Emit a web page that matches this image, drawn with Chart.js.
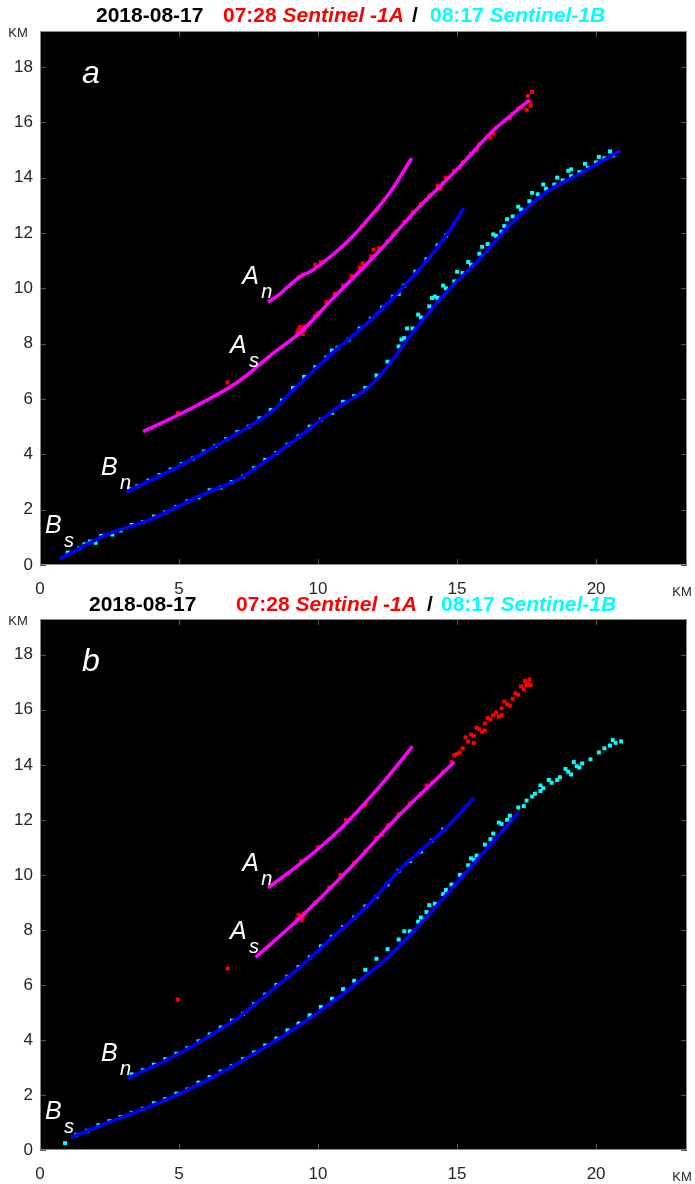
<!DOCTYPE html>
<html>
<head>
<meta charset="utf-8">
<script src="https://cdn.jsdelivr.net/npm/chart.js@4.4.1/dist/chart.umd.min.js"></script>
<style>
  html, body { margin: 0; padding: 0; background: #fff; }
  #wrap { position: relative; width: 695px; height: 1184px; }
  canvas { position: absolute; left: 0; }
</style>
</head>
<body>
<div id="wrap">
  <canvas id="panelA" width="695" height="605" style="top:0"></canvas>
  <canvas id="panelB" width="695" height="596" style="top:588px"></canvas>
</div>
<script>
// ---- data (km) ----
const xTicks = [0, 5, 10, 15, 20];
const yTicks = [0, 2, 4, 6, 8, 10, 12, 14, 16, 18];

// panel a: fitted traces
const anLineA = [[8.2,9.5],[8.63,9.8],[9.05,10.18],[9.35,10.42],[9.71,10.6],[10.07,10.85],[10.55,11.23],[11.15,11.78],[11.75,12.44],[12.59,13.47],[13.37,14.71]];
const asLineA = [[3.71,4.82],[5.36,5.62],[7.14,6.63],[8.33,7.61],[9.4,8.44],[10.5,9.6],[12.2,11.35],[13.5,12.8],[15.0,14.3],[16.3,15.7],[17.6,16.8]];
const bnLineA = [[3.1,2.64],[4.75,3.44],[5.96,4.1],[7.14,4.78],[8.33,5.54],[9.04,6.25],[9.5,6.7],[10.5,7.65],[11.8,8.77],[13.3,10.3],[14.5,11.75],[15.25,12.9]];
const bsLineA = [[0.71,0.22],[2.38,1.09],[3.93,1.63],[5.96,2.6],[7.14,3.1],[8.33,3.91],[9.5,4.78],[10.7,5.69],[11.8,6.4],[12.4,7.05],[13.4,8.4],[14.6,9.84],[15.8,11.05],[17.0,12.4],[18.2,13.47],[19.4,14.13],[20.86,14.97]];

// panel a: radar returns
const redA = [[4.96,5.5],[6.75,6.6],[9.25,8.4],[9.3,8.5],[9.4,8.45],[9.45,8.35],[9.35,8.6],[9.5,8.5],[9.3,8.35],[9.5,8.62],[9.9,9.0],[10.0,9.1],[10.3,9.5],[10.6,9.8],[10.9,10.1],[11.2,10.45],[11.5,10.75],[11.9,11.15],[12.2,11.45],[12.5,11.7],[12.8,12.05],[13.1,12.4],[13.4,12.75],[13.7,13.05],[14.0,13.35],[14.3,13.7],[14.6,14.0],[14.9,14.25],[15.2,14.55],[15.5,14.85],[15.8,15.2],[16.1,15.5],[16.4,15.8],[16.7,16.05],[17.0,16.3],[17.3,16.55],[17.6,16.75],[17.7,17.1],[17.5,16.45],[17.65,16.6],[16.2,15.45],[14.4,13.6],
  [11.6,10.9],[12.0,11.4],[12.7,11.95],[13.3,12.55],[13.9,13.2],[14.5,13.8],[15.1,14.35],[15.7,15.0],[16.3,15.6],[16.9,16.15],[17.2,16.5],[17.55,16.95],
  [9.3,10.4],[9.45,10.5],[9.9,10.85],[10.1,10.95],[11.6,12.25],[12.1,12.8]];
const cyanA = [[1.0,0.45],[1.4,0.6],[1.6,0.75],[1.8,0.85],[2.0,0.8],[2.2,1.05],[2.6,1.1],[2.9,1.25],[3.3,1.45],[3.7,1.55],[4.1,1.75],[4.5,1.9],[4.9,2.1],[5.3,2.3],[5.7,2.45],[6.1,2.7],[6.5,2.8],[6.9,3.0],[7.3,3.2],[7.7,3.5],[8.1,3.8],[8.5,4.05],[8.9,4.35],[9.3,4.65],[9.7,5.0],[10.1,5.25],[10.5,5.5],[10.9,5.9],[11.3,6.1],[11.7,6.4],[12.1,6.85],[12.5,7.35],[12.9,7.9],[13.1,8.2],[13.4,8.55],[13.7,8.95],[14.0,9.35],[14.3,9.65],[14.6,10.0],[14.9,10.25],[15.2,10.55],[15.5,10.85],[15.8,11.25],[16.1,11.6],[16.4,11.9],[16.7,12.25],[17.0,12.6],[17.3,12.85],[17.6,13.15],[17.9,13.4],[18.2,13.6],[18.5,13.75],[18.8,13.9],[19.1,14.05],[19.4,14.2],[19.7,14.35],[20.0,14.55],[20.3,14.7],[20.6,14.8],[16.6,12.05],[14.2,9.7],[13.0,8.15],[19.0,14.25],
  [13.2,8.55],[13.6,9.05],[14.1,9.65],[14.5,10.1],[15.0,10.6],[15.4,10.95],[15.9,11.5],[16.3,11.95],[16.8,12.5],[17.2,12.95],[17.7,13.45],[18.1,13.75],[18.6,14.0],[19.1,14.3],[19.6,14.5],[20.1,14.75],[20.5,14.95],
  [3.2,2.75],[3.5,2.85],[3.9,3.05],[4.3,3.25],[4.7,3.45],[5.1,3.65],[5.5,3.85],[5.9,4.1],[6.3,4.3],[6.7,4.55],[7.1,4.8],[7.5,5.0],[7.9,5.3],[8.3,5.6],[8.7,5.95],[9.1,6.4],[9.5,6.8],[9.9,7.15],[10.3,7.5],[10.7,7.85],[11.1,8.15],[11.5,8.55],[11.9,8.9],[12.3,9.3],[12.7,9.7],[13.1,10.1],[13.5,10.6],[13.9,11.05],[14.3,11.55],[14.6,11.9],[10.5,7.75],[12.9,9.8]];

// panel b: fitted traces
const anLineB = [[8.2,9.53],[9.35,10.4],[10.8,11.67],[12.2,13.2],[13.4,14.67]];
const asLineB = [[7.75,7.0],[9.35,8.44],[11.15,10.25],[12.95,12.2],[14.9,14.1]];
const bnLineB = [[3.14,2.6],[4.75,3.37],[5.96,4.06],[7.14,4.82],[8.33,5.8],[9.5,6.78],[10.6,7.8],[11.9,9.0],[12.95,10.2],[14.7,11.8],[15.6,12.8]];
const bsLineB = [[1.13,0.47],[2.98,1.2],[4.75,1.92],[6.55,2.83],[8.33,3.88],[10.1,5.07],[11.8,6.4],[12.23,6.75],[13.2,7.7],[14.2,8.8],[15.2,9.95],[16.2,11.1],[17.2,12.26]];

// panel b: radar returns
const redB = [[4.96,5.47],[6.75,6.6],[9.25,8.4],[9.35,8.5],[9.45,8.45],[9.4,8.35],[9.3,8.55],[9.5,8.6],[9.9,9.0],[10.4,9.55],[10.8,10.0],[11.3,10.45],[11.7,10.85],[12.1,11.35],[12.5,11.8],[12.9,12.2],[13.3,12.6],[13.7,12.95],[14.1,13.35],[14.5,13.75],[14.8,14.1],[15.0,14.4],[15.2,14.6],[15.4,14.85],[15.6,15.05],[15.8,15.3],[16.0,15.5],[16.2,15.65],[16.4,15.9],[16.6,16.05],[16.8,16.2],[17.0,16.4],[17.2,16.55],[17.4,16.75],[17.55,16.95],[17.6,17.1],[15.3,15.0],[15.9,15.2],[16.5,15.75],[17.1,16.6],
  [14.9,14.35],[15.1,14.45],[15.5,15.1],[15.7,15.35],[16.1,15.7],[16.3,15.8],[16.7,16.3],[16.9,16.15],[17.3,16.85],[17.5,16.9],[17.45,17.05],[17.65,16.9],[15.6,14.8],[16.0,15.25],[16.6,15.8],[13.9,13.25],[12.3,11.45],
  [9.4,10.5],[10.0,11.0],[11.0,12.0],[11.7,12.55]];
const cyanB = [[0.9,0.25],[1.3,0.55],[1.7,0.7],[2.1,0.9],[2.5,1.05],[2.9,1.2],[3.3,1.35],[3.7,1.5],[4.1,1.7],[4.5,1.85],[4.9,2.05],[5.3,2.2],[5.7,2.45],[6.1,2.65],[6.5,2.85],[6.9,3.05],[7.3,3.3],[7.7,3.55],[8.1,3.8],[8.5,4.05],[8.9,4.35],[9.3,4.6],[9.7,4.9],[10.1,5.2],[10.5,5.5],[10.9,5.85],[11.3,6.15],[11.7,6.55],[12.1,6.95],[12.5,7.3],[12.9,7.65],[13.3,7.95],[13.6,8.3],[13.9,8.65],[14.2,8.95],[14.5,9.3],[14.8,9.65],[15.1,10.0],[15.4,10.35],[15.7,10.7],[16.0,11.1],[16.3,11.5],[16.6,11.85],[16.9,12.15],[17.2,12.45],[17.5,12.7],[17.8,12.95],[18.1,13.15],[18.4,13.35],[18.7,13.55],[19.0,13.75],[19.3,13.95],[19.5,14.05],[19.8,14.2],[20.1,14.45],[20.5,14.7],[20.7,14.8],[13.1,7.95],[14.0,8.9],[15.5,10.6],[16.5,11.9],[18.0,13.25],[19.2,14.1],
  [17.4,12.5],[17.7,12.85],[18.0,13.05],[18.3,13.45],[18.6,13.45],[18.9,13.85],[19.1,13.65],[19.4,13.9],[20.3,14.6],[20.6,14.9],[20.9,14.85],[16.8,12.0],[16.2,11.3],[15.6,10.55],[14.6,9.45],[13.7,8.45],
  [3.3,2.75],[3.7,2.9],[4.1,3.1],[4.5,3.3],[4.9,3.5],[5.3,3.7],[5.7,3.95],[6.1,4.2],[6.5,4.45],[6.9,4.7],[7.3,4.95],[7.7,5.3],[8.1,5.65],[8.5,6.0],[8.9,6.3],[9.3,6.65],[9.7,7.0],[10.1,7.4],[10.5,7.75],[10.9,8.1],[11.3,8.45],[11.7,8.85],[12.1,9.2],[12.5,9.65],[12.9,10.15],[13.3,10.5],[13.7,10.85],[14.1,11.25],[14.5,11.65]];

// trace labels: [main, subscript, x, y]
const traceLabels = [['A','n',7.27,10.14],['A','s',6.83,7.66],['B','n',2.19,3.24],['B','s',0.18,1.14]];

const MAGENTA = '#ff00ff', BLUE = '#0000ff', RED = '#ff0000', CYAN = '#00ffff';
const TICK_COL = '#262626';
const FONT = '"Liberation Sans", Arial, sans-serif';

function toXY(arr) { return arr.map(p => ({ x: p[0], y: p[1] })); }

function lineSet(data, color) {
  return { data: toXY(data), showLine: true, borderColor: color, borderWidth: 3.5,
           pointRadius: 0, cubicInterpolationMode: 'monotone', order: 0 };
}
function cloudSet(data, color) {
  return { data: toXY(data), showLine: false, backgroundColor: color, borderWidth: 0,
           pointStyle: 'rect', pointRadius: 2.8, order: 1 };
}

const panelDecor = {
  id: 'panelDecor',
  beforeDraw(chart) {
    const a = chart.chartArea, ctx = chart.ctx;
    ctx.save();
    ctx.fillStyle = '#000';
    ctx.fillRect(a.left, a.top, a.right - a.left, a.bottom - a.top);
    ctx.restore();
  },
  afterDraw(chart, args, opts) {
    const a = chart.chartArea, ctx = chart.ctx;
    const xs = chart.scales.x, ys = chart.scales.y;
    ctx.save();
    // inward tick marks
    ctx.strokeStyle = '#555';
    ctx.lineWidth = 1;
    ctx.beginPath();
    xTicks.forEach(v => {
      const px = Math.round(xs.getPixelForValue(v)) + 0.5;
      ctx.moveTo(px, a.bottom); ctx.lineTo(px, a.bottom - 6);
      ctx.moveTo(px, a.top); ctx.lineTo(px, a.top + 6);
    });
    yTicks.forEach(v => {
      const py = Math.round(ys.getPixelForValue(v)) + 0.5;
      ctx.moveTo(a.left, py); ctx.lineTo(a.left + 6, py);
      ctx.moveTo(a.right, py); ctx.lineTo(a.right - 6, py);
    });
    ctx.stroke();
    ctx.strokeStyle = '#8a8a8a';
    ctx.strokeRect(a.left + 0.5, a.top + 0.5, a.right - a.left - 1, a.bottom - a.top - 1);

    // trace labels
    ctx.fillStyle = '#fff';
    ctx.textBaseline = 'alphabetic';
    ctx.textAlign = 'left';
    opts.labels.forEach(l => {
      const px = xs.getPixelForValue(l[2]), py = ys.getPixelForValue(l[3]);
      ctx.font = 'italic 25px ' + FONT;
      ctx.fillText(l[0], px, py);
      ctx.font = 'italic 20px ' + FONT;
      ctx.fillText(l[1], px + 19, py + 14);
    });
    ctx.font = 'italic 32px ' + FONT;
    ctx.fillText(opts.letter, xs.getPixelForValue(1.51), ys.getPixelForValue(17.42));

    // units
    ctx.fillStyle = TICK_COL;
    ctx.font = '13px ' + FONT;
    ctx.textAlign = 'center';
    ctx.textBaseline = 'middle';
    ctx.fillText('KM', 18, a.top + 2);
    ctx.fillText('KM', 682, a.bottom + 27);

    // title
    const t = opts.title;
    ctx.textAlign = 'left';
    const parts = [
      [t[0], '2018-08-17', '#000', 'bold'],
      [t[1], '07:28 ', RED, 'bold'],
      [null, 'Sentinel -1A', RED, 'italic bold'],
      [t[2], '/', '#000', 'bold'],
      [t[3], '08:17 ', CYAN, 'bold'],
      [null, 'Sentinel-1B', CYAN, 'italic bold']
    ];
    let cx = 0;
    parts.forEach(p => {
      ctx.font = p[3] + ' 21px ' + FONT;
      if (p[0] !== null) cx = p[0];
      ctx.fillStyle = p[2];
      ctx.fillText(p[1], cx, t[4]);
      cx += ctx.measureText(p[1]).width;
    });
    ctx.restore();
  }
};

function makePanel(id, lines, clouds, xHeight, letter, title) {
  const datasets = [
    lineSet(lines[0], MAGENTA), lineSet(lines[1], MAGENTA),
    lineSet(lines[2], BLUE), lineSet(lines[3], BLUE),
    cloudSet(clouds[0], RED), cloudSet(clouds[1], CYAN)
  ];
  new Chart(document.getElementById(id), {
    type: 'scatter',
    data: { datasets },
    options: {
      responsive: false,
      animation: false,
      layout: { padding: { top: 31, right: 8, left: 0, bottom: 0 } },
      plugins: {
        legend: { display: false },
        tooltip: { enabled: false },
        panelDecor: { labels: traceLabels, letter, title }
      },
      scales: {
        x: {
          type: 'linear', min: 0, max: 23.27,
          afterBuildTicks: s => { s.ticks = xTicks.map(v => ({ value: v })); },
          afterFit: s => { s.height = xHeight; },
          grid: { display: false, drawTicks: false },
          border: { display: false },
          ticks: { color: TICK_COL, font: { family: FONT, size: 17 }, padding: 14, maxRotation: 0 }
        },
        y: {
          type: 'linear', min: 0, max: 19.3,
          afterBuildTicks: s => { s.ticks = yTicks.map(v => ({ value: v })); },
          afterFit: s => { s.width = 40; },
          grid: { display: false, drawTicks: false },
          border: { display: false },
          ticks: { color: TICK_COL, font: { family: FONT, size: 17 }, padding: 7 }
        }
      }
    },
    plugins: [panelDecor]
  });
}

makePanel('panelA', [anLineA, asLineA, bnLineA, bsLineA], [redA, cyanA], 40, 'a', [96, 223, 412, 430, 16]);
makePanel('panelB', [anLineB, asLineB, bnLineB, bsLineB], [redB, cyanB], 34, 'b', [89, 236, 427, 441, 17]);
</script>
</body>
</html>
